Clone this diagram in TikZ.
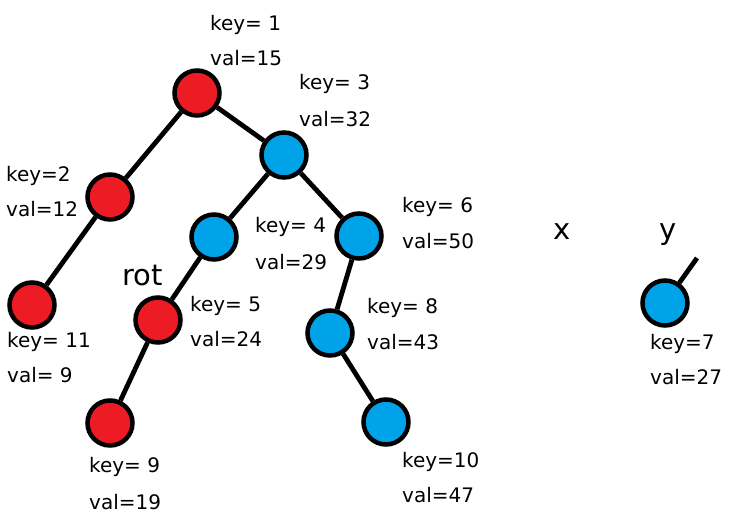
\documentclass[tikz,border=0pt]{standalone}
\usepackage{fontspec}
\setmainfont{DejaVu Sans}
\definecolor{rbred}{HTML}{ED1C24}
\definecolor{rbblue}{HTML}{00A2E8}
\begin{document}
\begin{tikzpicture}[x=1pt,y=-1pt,
  vtx/.style={circle,draw=black,line width=4.5pt,minimum size=45pt,inner sep=0pt},
  rn/.style={vtx,fill=rbred},
  bn/.style={vtx,fill=rbblue},
  lbl/.style={anchor=base west,inner sep=0pt,font=\fontsize{20}{20}\selectfont},
  big/.style={anchor=base west,inner sep=0pt,font=\fontsize{29}{29}\selectfont},
  edge/.style={line width=4.8pt,black}]
\useasboundingbox (0,0) rectangle (731,518);
\node[rn] (n1) at (197,93) {};
\node[bn] (n3) at (284,155) {};
\node[rn] (n2) at (110,197) {};
\node[bn] (n4) at (214,237) {};
\node[bn] (n6) at (359,236) {};
\node[rn] (n11) at (32,305) {};
\node[rn] (n5) at (158,320) {};
\node[bn] (n8) at (330,333) {};
\node[rn] (n9) at (110,423) {};
\node[bn] (n10) at (386,422) {};
\node[bn] (n7) at (665,303) {};
\coordinate (ytop) at (697,258);
\draw[edge] (n1) -- (n2);
\draw[edge] (n1) -- (n3);
\draw[edge] (n2) -- (n11);
\draw[edge] (n3) -- (n4);
\draw[edge] (n3) -- (n6);
\draw[edge] (n4) -- (n5);
\draw[edge] (n5) -- (n9);
\draw[edge] (n6) -- (n8);
\draw[edge] (n8) -- (n10);
\draw[edge] (n7) -- (ytop);
\node[lbl] (k1) at (210,31) {key= 1};
\node[lbl] (v1) at (210,66) {val=15};
\node[lbl] (k3) at (299,90) {key= 3};
\node[lbl] (v3) at (299,127) {val=32};
\node[lbl] (k2) at (6,182) {key=2};
\node[lbl] (v2) at (6,217) {val=12};
\node[lbl] (k4) at (255,233) {key= 4};
\node[lbl] (v4) at (255,270) {val=29};
\node[lbl] (k6) at (402,213) {key= 6};
\node[lbl] (v6) at (402,249) {val=50};
\node[big] (rot) at (122,286) {rot};
\node[lbl] (k5) at (190,312) {key= 5};
\node[lbl] (v5) at (190,347) {val=24};
\node[lbl] (k8) at (367,314) {key= 8};
\node[lbl] (v8) at (367,350) {val=43};
\node[lbl] (k11) at (7,348) {key= 11};
\node[lbl] (v11) at (7,383) {val= 9};
\node[lbl] (k9) at (89,472) {key= 9};
\node[lbl] (v9) at (89,509) {val=19};
\node[lbl] (k10) at (402,467) {key=10};
\node[lbl] (v10) at (402,502) {val=47};
\node[lbl] (k7) at (650,350) {key=7};
\node[lbl] (v7) at (650,385) {val=27};
\node[big] (xl) at (553,240) {x};
\node[big] (yl) at (659,240) {y};
\end{tikzpicture}
\end{document}
